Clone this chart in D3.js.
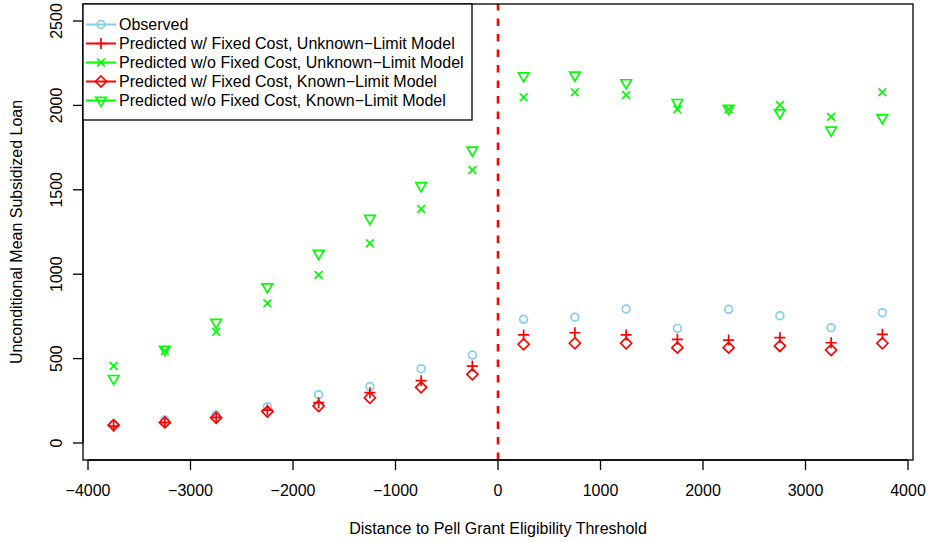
<!DOCTYPE html>
<html>
<head>
<meta charset="utf-8">
<script src="https://cdn.jsdelivr.net/npm/d3@7"></script>
<style>
  html, body { margin: 0; padding: 0; background: #fff; }
  svg text { font-family: "Liberation Sans", Arial, Helvetica, sans-serif; font-size: 16px; fill: #000; }
</style>
</head>
<body>
<svg id="chart" width="930" height="542"></svg>
<script>
// bin midpoints (distance to threshold)
const distance = [-3750, -3250, -2750, -2250, -1750, -1250, -750, -250,
                  250, 750, 1250, 1750, 2250, 2750, 3250, 3750];

// values
const observed          = [111, 136, 166, 215, 286, 334, 440, 521, 733, 745, 794, 679, 792, 754, 683, 772];
const fixedUnknown      = [100, 122, 152, 195, 239, 298, 369, 456, 640, 653, 640, 614, 610, 624, 594, 644];
const noFixedUnknown    = [456, 545, 659, 828, 995, 1183, 1386, 1617, 2048, 2078, 2062, 1977, 1977, 2002, 1933, 2078];
const fixedKnown        = [106, 122, 150, 186, 219, 268, 330, 407, 585, 591, 591, 565, 565, 575, 551, 591];
const noFixedKnown      = [382, 554, 714, 925, 1123, 1330, 1524, 1735, 2175, 2179, 2134, 2017, 1982, 1956, 1853, 1927];

const xTicks = [-4000, -3000, -2000, -1000, 0, 1000, 2000, 3000, 4000];
const yTicks = [0, 500, 1000, 1500, 2000, 2500];

const series = [
    { name: 'Observed', values: observed, color: '#87CEEB', shape: 'circle' },
    { name: 'Predicted w/ Fixed Cost, Unknown\u2212Limit Model', values: fixedUnknown, color: '#FF0000', shape: 'plus' },
    { name: 'Predicted w/o Fixed Cost, Unknown\u2212Limit Model', values: noFixedUnknown, color: '#00FF00', shape: 'cross' },
    { name: 'Predicted w/ Fixed Cost, Known\u2212Limit Model', values: fixedKnown, color: '#FF0000', shape: 'diamond' },
    { name: 'Predicted w/o Fixed Cost, Known\u2212Limit Model', values: noFixedKnown, color: '#00FF00', shape: 'triangle' }
];

const svg = d3.select('#chart');
const box = { left: 83, right: 913, top: 4, bottom: 460 };

const x = d3.scaleLinear().domain([-4000, 4000]).range([88, 908]);
const y = d3.scaleLinear().domain([0, 2500]).range([443, 21]);

// R-like point symbols, r is the base radius
const R = 3.9;
function drawSymbol(g, shape, cx, cy, color) {
    const sw = 1.7;
    if (shape === 'circle') {
        g.append('circle').attr('cx', cx).attr('cy', cy).attr('r', R)
            .attr('fill', 'none').attr('stroke', color).attr('stroke-width', sw);
    } else if (shape === 'plus') {
        const s = Math.SQRT2 * R;
        g.append('path').attr('d', `M${cx - s},${cy}H${cx + s}M${cx},${cy - s}V${cy + s}`)
            .attr('stroke', color).attr('stroke-width', sw);
    } else if (shape === 'cross') {
        const s = R;
        g.append('path').attr('d', `M${cx - s},${cy - s}L${cx + s},${cy + s}M${cx - s},${cy + s}L${cx + s},${cy - s}`)
            .attr('stroke', color).attr('stroke-width', sw);
    } else if (shape === 'diamond') {
        const s = Math.SQRT2 * R;
        g.append('path').attr('d', `M${cx},${cy - s}L${cx + s},${cy}L${cx},${cy + s}L${cx - s},${cy}Z`)
            .attr('fill', 'none').attr('stroke', color).attr('stroke-width', sw);
    } else if (shape === 'triangle') {
        const r = 1.5551 * R, xc = 1.3468 * R, yc = 0.7776 * R;
        g.append('path').attr('d', `M${cx - xc},${cy - yc}L${cx + xc},${cy - yc}L${cx},${cy + r}Z`)
            .attr('fill', 'none').attr('stroke', color).attr('stroke-width', sw);
    }
}

// threshold line
svg.append('line')
    .attr('x1', x(0)).attr('x2', x(0))
    .attr('y1', box.bottom).attr('y2', box.top)
    .attr('stroke', '#FF0000').attr('stroke-width', 2.6)
    .attr('stroke-dasharray', '7.5,8');

// points
const pts = svg.append('g');
series.forEach(s => {
    s.values.forEach((v, i) => drawSymbol(pts, s.shape, x(distance[i]), y(v), s.color));
});

// plot box
svg.append('rect')
    .attr('x', box.left).attr('y', box.top)
    .attr('width', box.right - box.left).attr('height', box.bottom - box.top)
    .attr('fill', 'none').attr('stroke', '#000').attr('stroke-width', 1.3);

// x axis
const xAxis = svg.append('g');
xAxis.append('line').attr('x1', x(-4000)).attr('x2', x(4000))
    .attr('y1', box.bottom).attr('y2', box.bottom).attr('stroke', '#000').attr('stroke-width', 1.3);
xTicks.forEach(t => {
    xAxis.append('line').attr('x1', x(t)).attr('x2', x(t))
        .attr('y1', box.bottom).attr('y2', box.bottom + 10).attr('stroke', '#000').attr('stroke-width', 1.3);
    xAxis.append('text').attr('x', x(t)).attr('y', 495.5).attr('text-anchor', 'middle')
        .text(t < 0 ? '\u2212' + Math.abs(t) : String(t));
});
svg.append('text').attr('x', (box.left + box.right) / 2).attr('y', 534).attr('text-anchor', 'middle')
    .text('Distance to Pell Grant Eligibility Threshold');

// y axis
const yAxis = svg.append('g');
yAxis.append('line').attr('x1', box.left).attr('x2', box.left)
    .attr('y1', y(0)).attr('y2', y(2500)).attr('stroke', '#000').attr('stroke-width', 1.3);
yTicks.forEach(t => {
    yAxis.append('line').attr('x1', box.left - 10).attr('x2', box.left)
        .attr('y1', y(t)).attr('y2', y(t)).attr('stroke', '#000').attr('stroke-width', 1.3);
    yAxis.append('text').attr('transform', `translate(62,${y(t)}) rotate(-90)`)
        .attr('text-anchor', 'middle').text(String(t));
});
svg.append('text').attr('transform', `translate(22,${(box.top + box.bottom) / 2}) rotate(-90)`)
    .attr('text-anchor', 'middle').text('Unconditional Mean Subsidized Loan');

// legend
const legend = svg.append('g');
legend.append('rect').attr('x', 83).attr('y', 4).attr('width', 389).attr('height', 116)
    .attr('fill', '#fff').attr('stroke', '#000').attr('stroke-width', 1.3);
series.forEach((s, i) => {
    const cy = 24.5 + i * 19;
    legend.append('line').attr('x1', 86).attr('x2', 116).attr('y1', cy).attr('y2', cy)
        .attr('stroke', s.color).attr('stroke-width', 2);
    drawSymbol(legend, s.shape, 101, cy, s.color);
    legend.append('text').attr('x', 119).attr('y', cy + 5.8).text(s.name);
});
</script>
</body>
</html>
